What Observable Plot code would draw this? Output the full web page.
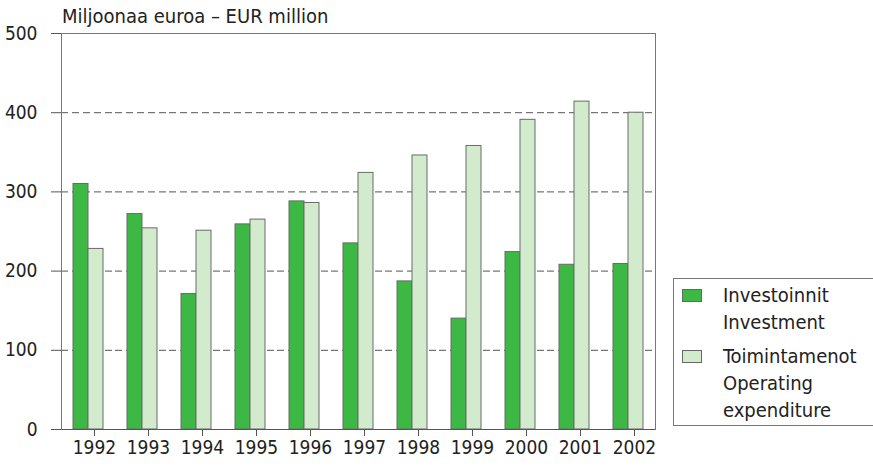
<!DOCTYPE html>
<html>
<head>
<meta charset="utf-8">
<script src="https://cdn.jsdelivr.net/npm/d3@7"></script>
<script src="https://cdn.jsdelivr.net/npm/@observablehq/plot@0.6"></script>
<style>
  html, body { margin: 0; padding: 0; background: #fff; }
  body { width: 873px; height: 468px; overflow: hidden; position: relative;
         font-family: "Liberation Sans Narrow", "DejaVu Sans Condensed", sans-serif; font-stretch: condensed; color: #222; }
  #chart { position: absolute; left: 0; top: 0; }
  #title { position: absolute; left: 62px; top: 4px; font-size: 20px; line-height: 24px; color: #222; }
  #legend { position: absolute; left: 673px; top: 278px; width: 215px; height: 148px; border: 1px solid #777; box-sizing: border-box; }
  .sw { position: absolute; left: 8px; width: 20px; height: 13px; box-sizing: border-box; border: 1px solid #666; }
  .lbl { position: absolute; left: 49px; font-size: 20px; line-height: 27px; white-space: nowrap; color: #222; }
</style>
</head>
<body>
<div id="chart"></div>
<div id="title">Miljoonaa euroa – EUR million</div>
<div id="legend"></div>
<script>
const years = ["1992","1993","1994","1995","1996","1997","1998","1999","2000","2001","2002"];
const investment = [310, 272, 171, 259, 288, 235, 187, 140, 224, 208, 209];
const operating = [228, 254, 251, 265, 286, 324, 346, 358, 391, 414, 400];
const seriesKeys = ["Investoinnit", "Toimintamenot"];
const seriesLabels = [["Investoinnit", "Investment"], ["Toimintamenot", "Operating", "expenditure"]];
const seriesColors = ["#3db845", "#d2ebcd"];
const yTicks = [0, 100, 200, 300, 400, 500];
const gridValues = [100, 200, 300, 400];
const edgeValues = [500];

const rows = [];
years.forEach((y, i) => {
  rows.push({year: y, series: seriesKeys[0], value: investment[i]});
  rows.push({year: y, series: seriesKeys[1], value: operating[i]});
});

const font = '"Liberation Sans Narrow", "DejaVu Sans Condensed", sans-serif';

const chart = Plot.plot({
  width: 873,
  height: 468,
  marginLeft: 60,
  marginRight: 217,
  marginTop: 33,
  marginBottom: 39,
  style: {fontFamily: font, fontSize: "19px", color: "#222", background: "transparent", fontStretch: "condensed"},
  fx: {domain: years, padding: 0, label: null},
  x: {domain: seriesKeys, paddingInner: 0, paddingOuter: 0.69, axis: null},
  y: {domain: [0, 500], axis: null},
  color: {domain: seriesKeys, range: seriesColors},
  marks: [
    Plot.ruleY(gridValues, {stroke: "#555", strokeWidth: 1, strokeDasharray: "7,4"}),
    Plot.ruleY(edgeValues, {stroke: "#777", strokeWidth: 1}),
    Plot.barY(rows, {fx: "year", x: "series", y: "value", fill: "series", stroke: "#6a6a6a", strokeWidth: 1}),
    Plot.ruleY([0], {stroke: "#555", strokeWidth: 1}),
    Plot.frame({anchor: "left", facetAnchor: "left", stroke: "#777"}),
    Plot.frame({anchor: "right", facetAnchor: "right", stroke: "#777"}),
    Plot.axisY({ticks: yTicks, tickSize: 10, tickPadding: 14, stroke: "#555", fontSize: 19, label: null}),
    Plot.axisFx({tickSize: 7, tickPadding: 4, dx: 6, stroke: "#555", fontSize: 19, label: null, anchor: "bottom"})
  ]
});
document.getElementById("chart").appendChild(chart);

const legend = document.getElementById("legend");
const tops = [5, 66];
seriesKeys.forEach((k, i) => {
  const sw = document.createElement("div");
  sw.className = "sw";
  sw.style.top = (tops[i] + 5) + "px";
  sw.style.background = seriesColors[i];
  legend.appendChild(sw);
  seriesLabels[i].forEach((t, j) => {
    const l = document.createElement("div");
    l.className = "lbl";
    l.style.top = (tops[i] - 2 + j * 27) + "px";
    l.textContent = t;
    legend.appendChild(l);
  });
});
</script>
</body>
</html>
